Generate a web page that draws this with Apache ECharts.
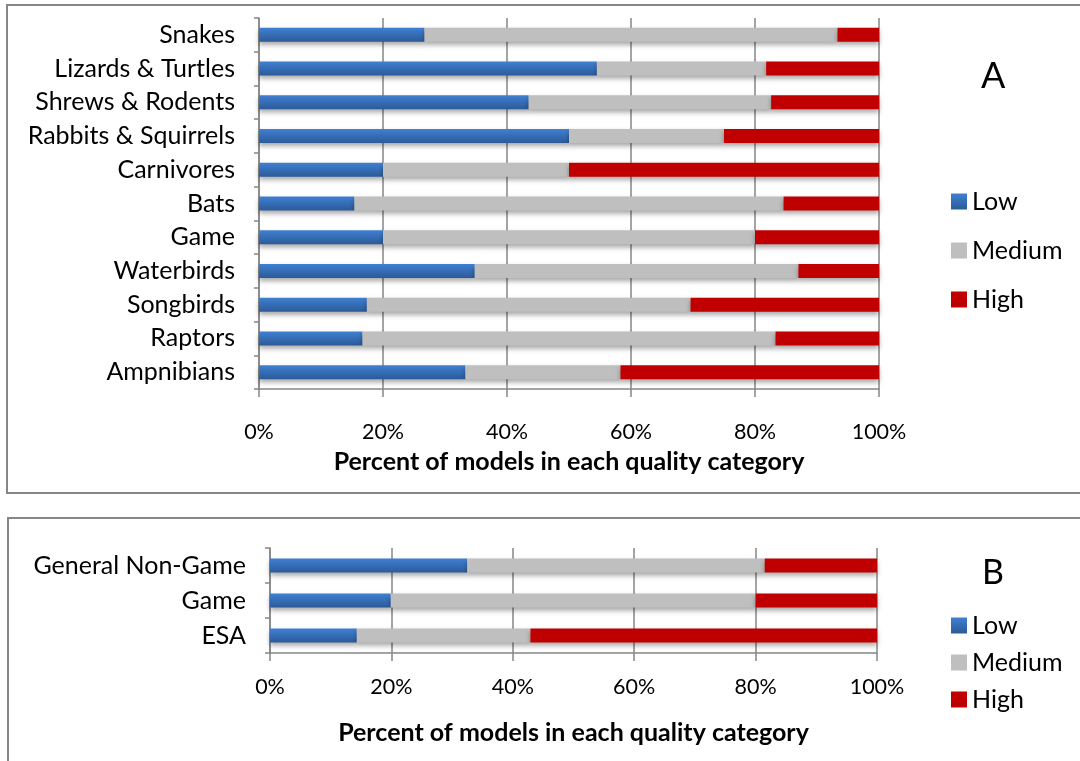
<!DOCTYPE html>
<html><head><meta charset="utf-8">
<script src="https://cdn.jsdelivr.net/npm/echarts@6/dist/echarts.min.js"></script>
<style>html,body{margin:0;padding:0;background:#fff}#c{width:1080px;height:761px}</style>
</head><body><div id="c"></div>
<script>
const catsA = ['Snakes','Lizards & Turtles','Shrews & Rodents','Rabbits & Squirrels','Carnivores','Bats','Game','Waterbirds','Songbirds','Raptors','Ampnibians'];
const lowA  = [26.7, 54.5, 43.5, 50, 20, 15.4, 20, 34.8, 17.4, 16.7, 33.3];
const medA  = [66.6, 27.3, 39.1, 25, 30, 69.2, 60, 52.2, 52.2, 66.6, 25.0];
const highA = [6.7, 18.2, 17.4, 25, 50, 15.4, 20, 13.0, 30.4, 16.7, 41.7];
const catsB = ['General Non-Game','Game','ESA'];
const lowB  = [32.5, 19.9, 14.3];
const medB  = [49.0, 60.1, 28.6];
const highB = [18.5, 20.0, 57.1];
const xTicks = [0, 20, 40, 60, 80, 100];
const seriesNames = ['Low','Medium','High'];
const axisTitle = 'Percent of models in each quality category';

const FONT = 'Lato';
const GRAY = '#868686';
const lowColor = {type:'linear',x:0,y:0,x2:0,y2:1,colorStops:[{offset:0,color:'#3f80d2'},{offset:1,color:'#2c5a98'}]};
const colors = [lowColor, '#bfbfbf', '#c00000'];

function xAxis(gridIndex, margin, nameGap){
  return {type:'value', gridIndex, min:xTicks[0], max:xTicks[xTicks.length-1], interval:20,
    axisLine:{show:true,lineStyle:{color:GRAY,width:1.5}},
    axisTick:{show:true,length:8,lineStyle:{color:GRAY,width:1.5}},
    splitLine:{show:true,lineStyle:{color:GRAY,width:1.5}},
    axisLabel:{formatter:v=>v+'%',fontFamily:FONT,fontSize:21.5,color:'#000',margin},
    name:axisTitle,nameLocation:'middle',nameGap,
    nameTextStyle:{fontFamily:FONT,fontSize:25,fontWeight:'bold',color:'#000'}};
}
function yAxis(gridIndex, data){
  return {type:'category', gridIndex, data, inverse:true,
    axisLine:{show:true,lineStyle:{color:GRAY,width:1.5}},
    axisTick:{show:true,length:5,lineStyle:{color:GRAY,width:1.5}},
    axisLabel:{fontFamily:FONT,fontSize:25,color:'#000',margin:24}};
}
function bars(idx, vals){
  return vals.map((d,i)=>({name:seriesNames[i],type:'bar',stack:'s'+idx,xAxisIndex:idx,yAxisIndex:idx,
    barWidth:14,data:d,
    itemStyle:{color:colors[i],shadowColor:'rgba(0,0,0,0.35)',shadowBlur:5,shadowOffsetY:3},
    emphasis:{disabled:true},animation:false}));
}
function legend(top, gap){
  return {orient:'vertical',left:951,top,padding:0,itemWidth:16,itemHeight:16,itemGap:gap,icon:'rect',
    data:seriesNames,textStyle:{fontFamily:FONT,fontSize:25,color:'#000',lineHeight:24}};
}

const chart = echarts.init(document.getElementById('c'),null,{renderer:'canvas'});
chart.setOption({
  animation:false,
  grid:[{left:259,right:201,top:18,height:371},{left:270,right:203,top:548,height:105}],
  xAxis:[xAxis(0,32,60),xAxis(1,23,67)],
  yAxis:[yAxis(0,catsA),yAxis(1,catsB)],
  legend:[legend(189,24),legend(613,12)],
  series:[...bars(0,[lowA,medA,highA]),...bars(1,[lowB,medB,highB])],
  graphic:[
    {type:'rect',shape:{x:7,y:5,width:1200,height:488},style:{fill:'none',stroke:GRAY,lineWidth:2},silent:true,z:-1},
    {type:'rect',shape:{x:8,y:518,width:1200,height:400},style:{fill:'none',stroke:GRAY,lineWidth:2},silent:true,z:-1},
    {type:'text',left:981,top:58,style:{text:'A',fontFamily:FONT,fontSize:36,fill:'#000'}},
    {type:'text',left:982,top:556,style:{text:'B',fontFamily:FONT,fontSize:34,fill:'#000'}}
  ]
});
</script></body></html>
